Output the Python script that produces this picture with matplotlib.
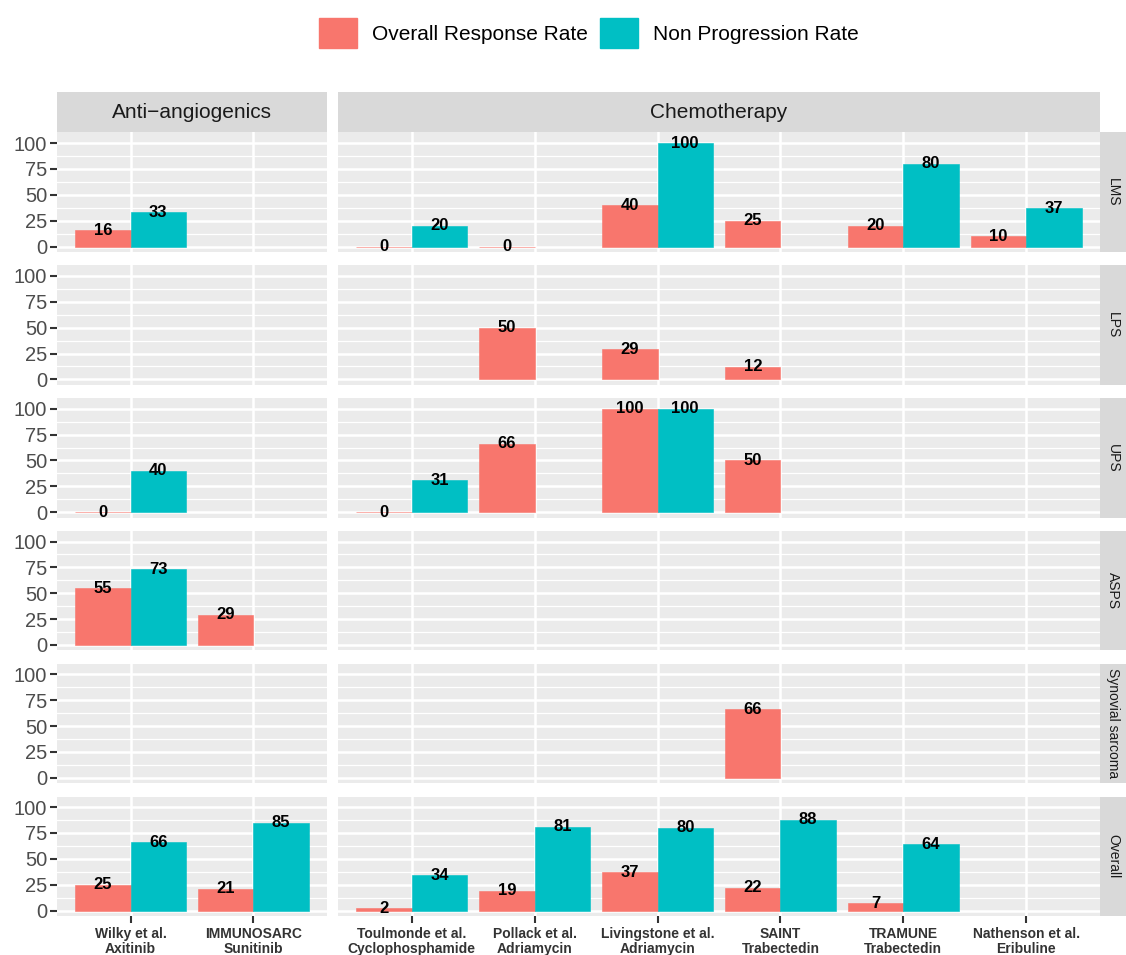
import numpy as np
import matplotlib
matplotlib.use("Agg")
import matplotlib.pyplot as plt
from matplotlib.patches import Patch

plt.rcParams['font.family'] = ['Liberation Sans', 'DejaVu Sans']

# ---------------- data ----------------
groups = ["Anti\u2212angiogenics", "Chemotherapy"]
trials_anti = ["Wilky et al.\nAxitinib", "IMMUNOSARC\nSunitinib"]
trials_chemo = ["Toulmonde et al.\nCyclophosphamide", "Pollack et al.\nAdriamycin",
                "Livingstone et al.\nAdriamycin", "SAINT\nTrabectedin",
                "TRAMUNE\nTrabectedin", "Nathenson et al.\nEribuline"]
subtypes = ["LMS", "LPS", "UPS", "ASPS", "Synovial sarcoma", "Overall"]
series_names = ["Overall Response Rate", "Non Progression Rate"]
nan = np.nan
# values per subtype, ordered: Wilky, IMMUNOSARC, Toulmonde, Pollack, Livingstone, SAINT, TRAMUNE, Nathenson
orr_lms = [16, nan, 0, 0, 40, 25, 20, 10]
npr_lms = [33, nan, 20, nan, 100, nan, 80, 37]
orr_lps = [nan, nan, nan, 50, 29, 12, nan, nan]
npr_lps = [nan, nan, nan, nan, nan, nan, nan, nan]
orr_ups = [0, nan, 0, 66, 100, 50, nan, nan]
npr_ups = [40, nan, 31, nan, 100, nan, nan, nan]
orr_asps = [55, 29, nan, nan, nan, nan, nan, nan]
npr_asps = [73, nan, nan, nan, nan, nan, nan, nan]
orr_syn = [nan, nan, nan, nan, nan, 66, nan, nan]
npr_syn = [nan, nan, nan, nan, nan, nan, nan, nan]
orr_all = [25, 21, 2, 19, 37, 22, 7, nan]
npr_all = [66, 85, 34, 81, 80, 88, 64, nan]

orr_rows = [orr_lms, orr_lps, orr_ups, orr_asps, orr_syn, orr_all]
npr_rows = [npr_lms, npr_lps, npr_ups, npr_asps, npr_syn, npr_all]
y_ticks = [0, 25, 50, 75, 100]

# ---------------- styling ----------------
W, H = 1126, 955
colors = ["#F8766D", "#00BFC4"]
panel_bg = "#EBEBEB"
strip_bg = "#D9D9D9"

fig = plt.figure(figsize=(W / 100, H / 100), dpi=100)

def fr(x0, y0, x1, y1):
    return [x0 / W, 1 - y1 / H, (x1 - x0) / W, (y1 - y0) / H]

col_x = [(57, 327), (338, 1100)]
col_trials = [trials_anti, trials_chemo]
col_offset = [0, 2]
row_top0, row_pitch, row_h = 132.5, 132.8, 119.5

bar_w = 0.45
for r, sub in enumerate(subtypes):
    top = row_top0 + r * row_pitch
    bot = top + row_h
    for c in range(2):
        x0, x1 = col_x[c]
        ax = fig.add_axes(fr(x0, top, x1, bot))
        ax.set_facecolor(panel_bg)
        n = len(col_trials[c])
        xs = np.arange(n)
        ax.set_xlim(-0.6, n - 1 + 0.6)
        ax.set_ylim(-5.25, 110.25)
        for s in ax.spines.values():
            s.set_visible(False)
        # grid
        for m in [12.5, 37.5, 62.5, 87.5]:
            ax.axhline(m, color="white", lw=0.9, zorder=0.5)
        for m in y_ticks:
            ax.axhline(m, color="white", lw=1.8, zorder=0.6)
        for xv in xs:
            ax.axvline(xv, color="white", lw=1.8, zorder=0.6)
        sl = slice(col_offset[c], col_offset[c] + n)
        orr = np.array(orr_rows[r], dtype=float)[sl]
        npr = np.array(npr_rows[r], dtype=float)[sl]
        for k, (vals, off) in enumerate([(orr, -bar_w / 2), (npr, bar_w / 2)]):
            mask = ~np.isnan(vals)
            ax.bar(xs[mask] + off, vals[mask], width=bar_w, color=colors[k],
                   edgecolor=colors[k], linewidth=0.4, zorder=2)
            for xv, v in zip(xs[mask] + off, vals[mask]):
                ax.text(xv, v, f"{int(v)}", ha="center", va="center",
                        fontsize=12, fontweight="bold", color="black", zorder=3)
        # ticks
        ax.tick_params(axis="both", which="both", color="#333333", width=1.5, length=5)
        ax.set_yticks(y_ticks)
        if c == 0:
            ax.set_yticklabels([str(t) for t in y_ticks], fontsize=14.5, color="#4D4D4D")
            ax.tick_params(axis="y", pad=2)
        else:
            ax.tick_params(axis="y", length=0, labelleft=False)
        ax.set_xticks(xs)
        if r == len(subtypes) - 1:
            ax.set_xticklabels(col_trials[c], fontsize=10, fontweight="bold",
                               color="#333333", linespacing=1.05)
            ax.tick_params(axis="x", pad=3)
        else:
            ax.tick_params(axis="x", length=0, labelbottom=False)
    # right strip
    sax = fig.add_axes(fr(1100, top, 1126, bot))
    sax.set_facecolor(strip_bg)
    sax.set_xticks([]); sax.set_yticks([])
    for s in sax.spines.values():
        s.set_visible(False)
    sax.text(0.5, 0.5, sub, rotation=-90, ha="center", va="center",
             fontsize=10, color="#1A1A1A", transform=sax.transAxes)

# top strips
for c in range(2):
    x0, x1 = col_x[c]
    tax = fig.add_axes(fr(x0, 92, x1, 132.5))
    tax.set_facecolor(strip_bg)
    tax.set_xticks([]); tax.set_yticks([])
    for s in tax.spines.values():
        s.set_visible(False)
    tax.text(0.5, 0.5, groups[c], ha="center", va="center", fontsize=15,
             color="#1A1A1A", transform=tax.transAxes)

# legend
leg_handles = [Patch(facecolor=colors[i], edgecolor=colors[i]) for i in range(2)]
fig.legend(leg_handles, series_names, loc="center", ncol=2,
           bbox_to_anchor=(589 / W, 1 - 33 / H), frameon=False, fontsize=15,
           handlelength=1.83, handleheight=1.83, handletextpad=0.72,
           columnspacing=0.55, borderpad=0, borderaxespad=0)

fig.savefig("out.png", dpi=100, facecolor="white")
